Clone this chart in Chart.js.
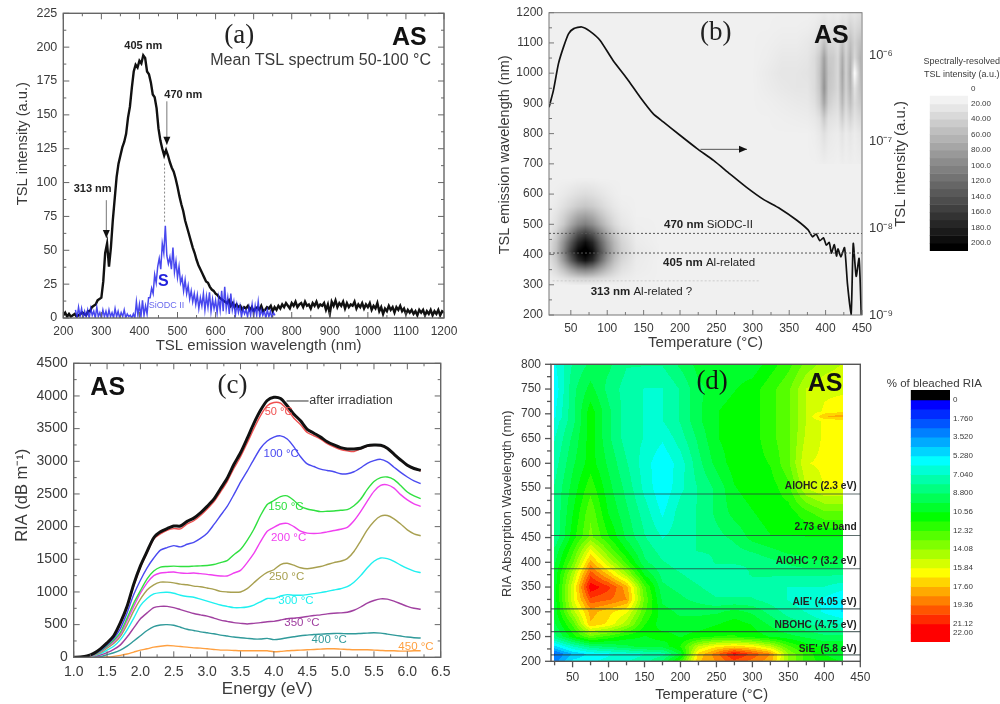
<!DOCTYPE html>
<html><head><meta charset="utf-8">
<style>
html,body{margin:0;padding:0;background:#fff;width:1000px;height:704px;overflow:hidden}
canvas{position:absolute;filter:blur(0.55px)}
</style>
<script src="https://cdn.jsdelivr.net/npm/chart.js@4/dist/chart.umd.min.js"></script>
</head><body>
<canvas id="pa" width="470" height="360" style="left:0;top:0"></canvas>
<canvas id="pb" width="440" height="360" style="left:480px;top:0"></canvas>
<canvas id="pc" width="470" height="354" style="left:0;top:350px"></canvas>
<canvas id="pd" width="420" height="354" style="left:480px;top:350px"></canvas>
<canvas id="cb" width="95" height="201" style="left:905px;top:50px"></canvas>
<canvas id="cd" width="120" height="267" style="left:880px;top:375px"></canvas>
<script>
/* ---------- (a) mean TSL spectrum ---------- */
const aTicksX=[200,300,400,500,600,700,800,900,1000,1100,1200];
const aTicksY=[0,25,50,75,100,125,150,175,200,225];
const aBlackStart=200,aBlackStep=5;
const aBlack=[2,4,1,3,1,2,3,1,2,3,4,3,2,5,5,8,9,10,13,14,15,
27,48,55,38,52,72,88,104,114,120,126,130,136,148,156,170,182,187,185,190,188,194,192,182,180,174,165,163,155,140,131,125,120,124,120,115,111,108,103,97,90,84,79,72,67,62,57,52,48,43,39,36,33,30,27,26,23,21,20,18,17,15,14,13,12,11,13,9,11,8,10,8,9,6,8,7,9,6,8,5,7,8,6,9,5,6,8,7,9,5,8,6,
9,7,10,8,11,9,7,11,9,12,8,10,11,8,12,9,10,7,11,9,12,8,10,9,11,6,10,3,12,9,13,8,11,9,12,7,11,8,10,9,12,7,10,8,11,7,10,8,11,6,9,7,11,5,8,3,7,5,9,6,8,4,8,6,9,5,7,3,6,4,6,3,5,2,6,4,6,2,5,3,6,2,5,3,6,2,5,4];
const aBlueStart=232,aBlueStep=4;
const aBlue=[6,0,8,1,7,0,5,1,6,0,7,2,5,0,8,1,4,0,6,1,5,0,6,1,4,0,7,1,5,0,4,1,6,0,3,1,2,0,3,0,12,2,10,1,13,2,9,3,15,
15,22,18,32,26,38,44,36,55,48,68,46,40,45,36,52,34,42,30,38,26,30,20,28,18,24,14,20,12,18,10,17,7,15,9,18,6,16,8,19,5,14,7,13,4,15,6,20,5,23,7,15,3,18,6,12,2,10,4,9,1,7,3,6,1,8,2,10,1,9,2,12,1,6,2,5,0,6,1,5,0,4,2];

/* ---------- (b) TSL map and glow curve ---------- */
const bTicksX=[50,100,150,200,250,300,350,400,450];
const bTicksY=[200,300,400,500,600,700,800,900,1000,1100,1200];
const bTicksLog=[1e-9,1e-8,1e-7,1e-6];
const bTickLogLabels=['10⁻⁹','10⁻⁸','10⁻⁷','10⁻⁶'];
const bGlowT=[20,26,33,40,47,54,65,76,90,108,127,145,163,177,200,223,246,268,291,314,337,360,376,382,387,392,397,401,405,408,412,415,417,421,426,430,435,438,442,446,449];
const bGlowI=[2.5e-7,3.9e-7,8.0e-7,1.25e-6,1.78e-6,2.03e-6,2.12e-6,1.9e-6,1.49e-6,8.7e-7,5.4e-7,3.3e-7,2.12e-7,1.7e-7,1.19e-7,8.4e-8,6.1e-8,4.3e-8,3.0e-8,2.18e-8,1.7e-8,1.25e-8,9.6e-9,8.0e-9,8.6e-9,7.2e-9,7.8e-9,6.4e-9,6.9e-9,5.2e-9,6.5e-9,4.8e-9,5.8e-9,4.7e-9,6.0e-9,2.3e-9,1e-9,6.7e-9,2.8e-9,4.5e-9,1e-9];
const bBlobT=[20,30,40,50,60,70,80,90,100,110,120,140,170];
const bBlobW=[300,320,350,380,410,440,470,500,530,560,600,650];
const bBlob=[
[12,12,12,14,15,15,15,14,13,13,12,12,12],
[14,17,22,28,32,34,32,28,24,20,16,13,12],
[18,30,48,72,92,100,92,72,52,36,24,15,12],
[22,42,80,125,165,185,165,120,80,50,32,16,12],
[26,50,95,150,195,210,190,140,95,60,38,18,13],
[24,46,85,130,170,190,170,125,85,55,34,16,12],
[20,36,65,100,135,150,132,100,68,44,28,14,12],
[16,26,42,68,90,100,88,66,46,30,20,13,12],
[14,22,34,50,66,72,64,48,34,24,17,12,12],
[13,17,24,32,40,44,40,32,24,18,14,12,12],
[12,14,17,21,25,27,25,21,17,14,12,12,12],
[12,12,12,12,13,13,13,12,12,12,12,12,12]];
const bStripeT=[300,320,340,360,375,385,392,398,404,411,417,423,428,434,440,448];
const bStripeW=[700,800,850,900,950,1000,1050,1100,1150,1200];
const bStripe=[
[12,12,12,12,12,12,13,14,13,13,12,14,13,14,13,14],
[12,12,12,12,12,14,18,25,18,16,15,22,15,20,15,20],
[12,12,13,14,15,18,24,42,24,22,20,38,22,34,22,30],
[12,13,15,17,18,24,38,70,38,30,26,55,30,50,28,42],
[12,15,18,20,20,28,44,85,44,38,30,65,35,60,22,50],
[12,16,20,20,22,28,46,80,46,40,30,70,35,65,0,55],
[12,14,18,18,20,28,42,75,42,40,30,65,35,60,30,60],
[12,13,15,15,18,22,30,50,32,30,26,48,30,50,35,50],
[12,12,13,13,14,16,20,25,20,22,20,28,25,35,28,35],
[12,12,12,12,12,13,14,16,14,16,14,18,18,22,20,25]];
const bBarLevels=[10,20,30,40,50,60,70,80,90,100,110,120,130,140,150,160,170,180,190,200,210];
const bBarTicks=[0,20,40,60,80,100,120,140,160,180,200];
const bBarLabels=['0','20.00','40.00','60.00','80.00','100.0','120.0','140.0','160.0','180.0','200.0'];

/* ---------- (c) RIA spectra ---------- */
const cTicksX=[1,1.5,2,2.5,3,3.5,4,4.5,5,5.5,6,6.5];
const cTicksY=[0,500,1000,1500,2000,2500,3000,3500,4000,4500];
const cEnergy=[1.0,1.1,1.2,1.3,1.4,1.5,1.6,1.7,1.8,1.9,2.0,2.1,2.2,2.3,2.4,2.5,2.6,2.7,2.8,2.9,3.0,3.1,3.2,3.3,3.4,3.5,3.6,3.7,3.8,3.9,4.0,4.1,4.2,4.3,4.4,4.5,4.6,4.7,4.8,4.9,5.0,5.1,5.2,5.3,5.4,5.5,5.6,5.7,5.8,5.9,6.0,6.1,6.2];
const cAfter=[0,5,20,60,130,220,330,530,780,1120,1400,1620,1830,1920,1970,2010,2010,2080,2130,2210,2310,2420,2580,2740,2950,3130,3350,3580,3780,3930,3980,3960,3850,3720,3620,3490,3430,3370,3300,3250,3210,3190,3190,3200,3240,3250,3245,3200,3110,3020,2940,2890,2860];
const c50=[0,5,18,55,125,210,320,510,760,1090,1380,1600,1810,1890,1945,1970,1965,2040,2090,2170,2270,2380,2530,2690,2890,3070,3280,3500,3700,3850,3900,3890,3790,3660,3560,3440,3390,3340,3270,3220,3180,3160,3150,3190,3230,3245,3240,3195,3105,3015,2935,2885,2855];
const c100=[0,4,15,45,105,190,290,440,680,960,1180,1370,1520,1640,1680,1710,1690,1730,1760,1820,1900,2030,2170,2310,2490,2680,2850,3030,3200,3310,3370,3390,3340,3220,3070,2960,2920,2880,2860,2840,2810,2810,2840,2900,2970,3010,3030,2990,2910,2830,2760,2700,2660];
const c150=[0,3,12,40,95,170,260,380,600,830,1020,1200,1320,1380,1390,1395,1390,1390,1395,1400,1405,1420,1450,1480,1570,1650,1790,1960,2170,2340,2400,2460,2470,2400,2310,2270,2250,2230,2235,2240,2250,2260,2320,2420,2570,2690,2750,2760,2720,2630,2530,2470,2430];
const c200=[0,3,10,35,85,160,240,350,560,780,980,1140,1250,1290,1300,1305,1290,1285,1290,1280,1270,1255,1245,1245,1290,1330,1450,1590,1770,1930,1990,2040,2050,2000,1930,1900,1895,1900,1920,1940,1960,1990,2090,2230,2390,2540,2630,2640,2590,2490,2410,2350,2310];
const c250=[0,2,8,28,70,140,210,320,500,710,890,1030,1110,1150,1150,1140,1120,1110,1090,1080,1060,1040,1010,1000,995,1000,1050,1140,1230,1300,1340,1420,1440,1410,1370,1355,1370,1390,1420,1450,1470,1510,1620,1780,1950,2080,2160,2170,2120,2040,1950,1890,1860];
const c300=[0,1,5,20,55,110,170,270,420,600,790,900,970,990,995,980,950,930,920,890,860,830,800,780,760,760,770,800,850,900,900,940,960,950,950,960,975,990,1010,1030,1050,1080,1150,1250,1370,1470,1520,1510,1470,1410,1360,1320,1295];
const c350=[0,0,3,12,35,70,120,190,310,450,590,680,760,780,780,760,730,700,670,650,630,600,570,550,530,520,510,520,530,545,550,570,590,600,610,625,640,650,665,675,680,690,720,770,830,870,895,890,860,820,780,750,735];
const c400=[0,0,1,4,10,40,70,110,170,250,330,410,470,495,500,490,460,430,410,390,375,360,340,325,310,300,290,280,280,290,270,280,300,315,330,340,350,355,360,365,365,360,360,365,370,375,370,355,340,325,310,300,295];
const c450=[0,0,0,1,2,5,15,30,50,80,110,130,155,170,180,175,165,155,145,140,130,120,110,110,105,100,100,100,100,100,85,90,100,105,110,115,120,125,130,130,125,120,115,115,115,110,105,100,100,95,95,100,100];

/* ---------- (d) bleached RIA map ---------- */
const dTicksX=[50,100,150,200,250,300,350,400,450];
const dTicksY=[200,250,300,350,400,450,500,550,600,650,700,750,800];
const dTemps=[25,50,75,100,125,150,175,200,225,250,275,300,325,350,375,400,425];
const dWave=[800,750,705,695,685,650,600,550,500,450,425,400,375,350,325,300,275,250,230,215,200];
const dMap=[
[6,8,9,9,8,8,8,9,10,10,10,10,11,12,13.5,14.5,15],
[5.5,8.5,10,8.5,7.5,7,7,8,9.5,10,10.5,11,12,13,15,15.6,15.6],
[6,8.5,11,9,7.5,7,7,8,9.5,10.5,11,11,12,13,15,16,16.5],
[6,8.5,11,9,7.5,7,7,8,9.5,10.5,11,11,12,13,15,17.6,18],
[6.5,8.5,11,9,7.5,7,7,8,9.5,10.5,11,11,12,13,15,16,16.2],
[7,9,11,9,7.5,7,6.3,7.5,9,10.5,11,11,12,13,15.2,16,16],
[7.5,9.5,11,9.5,8,6.6,5.4,6.6,8.5,10,11,11,11.5,13,15.8,16,16],
[8,10,12,10,8.5,6.8,5.4,6.8,8,9,10.5,11,11,12,15,15.9,15.9],
[8,10.5,13,10.5,9,7.5,6,7.5,8,9,10,10.5,11,11,12,13,13],
[8,11,13.5,11.5,9.5,8,7,7.5,8,8.5,9,10,10.5,10.5,10.5,10.5,10.5],
[9,12,16,13,10.5,8.5,7.5,7.5,8,8,8.5,9,9.5,10,10,10.5,10],
[9.5,13,18,15,12,9,8,7.5,7.5,8,8,8,8.5,9,9.5,9.5,9.5],
[10,14.5,20,17.5,14.5,10.5,8.5,8,7.5,7.5,7.5,8,8,8,8,8,8],
[10,15.5,21.8,20.5,18,12.5,9,8.5,8,7.5,7.5,7.5,7.5,7,7,7,6.5],
[10,15.5,20,19.5,18.5,13,9.5,9,8.5,8,8,8,7.5,7,6.5,6,5.2],
[10,14.5,18,17,16,12.5,10,9.5,9.5,9.5,10,9.5,8.5,7.5,7,6,5.2],
[9.5,12.5,17.5,16.5,14.5,11.5,10,10,10,10.5,11,10.5,9.5,8.5,8,7.5,7],
[8.5,11,13,12,11,10.5,11,10.5,11,11.5,11.5,11,10.5,10,9.5,9,9],
[5,7,8.5,9,9.5,10,10,11.5,15,16.5,17,16.5,15,12.5,11,10.5,10.5],
[2.5,4.5,5.5,6,6.5,7,7.5,10,17,19,21.5,20,18.5,14,12,10.5,10],
[3,5.5,6,6.5,7,7.5,9,12,17.5,18.5,20,19,18,14,12,11,10.5]];
const dBandLines=[538,454,387,306,260,213];
const dBarLevels=[-0.94,0,0.88,1.76,2.64,3.52,4.40,5.28,6.16,7.04,7.92,8.80,9.68,10.56,11.44,12.32,13.20,14.08,14.96,15.84,16.72,17.60,18.48,19.36,20.24,21.12,22.00,22.83];
const dBarTicks=[0,1.76,3.52,5.28,7.04,8.8,10.56,12.32,14.08,15.84,17.6,19.36,21.12,22];
const dBarLabels=['0','1.760','3.520','5.280','7.040','8.800','10.56','12.32','14.08','15.84','17.60','19.36','21.12','22.00'];

/* ---------- helpers ---------- */
const SANS='"Liberation Sans",Arial,sans-serif', SERIF='"Liberation Serif",serif';
const INK='#3a3a3a';
const zipXY=(xs,ys)=>ys.map((y,i)=>({x:xs[i],y}));
const zipStep=(s,st,ys)=>ys.map((y,i)=>({x:s+st*i,y}));
const grayOf=v=>{const g=Math.max(0,Math.round(255-1.275*v));return `rgb(${g},${g},${g})`;};
function jet(v){
  const n=[[0,[0,0,255]],[5.28,[0,255,255]],[10.56,[0,255,0]],[15.84,[255,255,0]],[21.12,[255,0,0]]];
  if(v<=0)return 'rgb(0,0,255)';
  for(let i=0;i<4;i++){
    if(v<n[i+1][0]){const t=(v-n[i][0])/(n[i+1][0]-n[i][0]);
      const c=n[i][1].map((a,k)=>Math.round(a+(n[i+1][1][k]-a)*t));return `rgb(${c})`;}
  }
  return 'rgb(255,0,0)';
}
const jetBand=v=>jet(Math.floor(v/0.88+1e-6)*0.88);

const heatPlugin={id:'heat',beforeDatasetsDraw(ch){
  const c=ch.ctx,a=ch.chartArea,bg=ch.options.plugins.heat&&ch.options.plugins.heat.background;
  c.save();c.beginPath();c.rect(a.left,a.top,a.width,a.height);c.clip();
  if(bg){c.fillStyle=bg;c.fillRect(a.left,a.top,a.width,a.height);}
  ch.data.datasets.forEach(d=>{ if(!d.heat)return;
    const {xs,ys,rows,color}=d.heat, sx=ch.scales.x, sy=ch.scales.y;
    const px=xs.map(v=>sx.getPixelForValue(v)), py=ys.map(v=>sy.getPixelForValue(v));
    const flip=py[0]>py[py.length-1];
    const order=ys.map((_,i)=>flip?ys.length-1-i:i);
    const P=order.map(i=>py[i]);
    for(let Y=Math.floor(P[0]);Y<Math.ceil(P[P.length-1]);Y++){
      let j=0;while(j<P.length-2&&P[j+1]<=Y+.5)j++;
      const ty=Math.min(1,Math.max(0,(Y+.5-P[j])/(P[j+1]-P[j])));
      const r0=rows[order[j]],r1=rows[order[j+1]];
      for(let X=Math.floor(px[0]);X<Math.ceil(px[px.length-1]);X++){
        let i=0;while(i<px.length-2&&px[i+1]<=X+.5)i++;
        const tx=Math.min(1,Math.max(0,(X+.5-px[i])/(px[i+1]-px[i])));
        const v=(r0[i]*(1-tx)+r0[i+1]*tx)*(1-ty)+(r1[i]*(1-tx)+r1[i+1]*tx)*ty;
        c.fillStyle=color(v);c.fillRect(X,Y,1,1);
      }
    }
  });
  c.restore();
}};
const framePlugin={id:'frame',afterDatasetsDraw(ch){
  const o=ch.options.plugins.frame; if(!o||!o.xTicks)return;
  const c=ch.ctx,a=ch.chartArea;
  c.save();c.strokeStyle=o.color;c.lineWidth=o.width;
  c.strokeRect(a.left,a.top,a.width,a.height);
  c.lineWidth=o.tickWidth||1;
  const mids=t=>t.slice(0,-1).map((v,i)=>(v+t[i+1])/2);
  const doX=(t,len)=>t.forEach(v=>{const p=ch.scales.x.getPixelForValue(v);
    c.beginPath();
    (o.bottom||[]).forEach(s=>{c.moveTo(p,a.bottom);c.lineTo(p,a.bottom+s*len);});
    (o.top||[]).forEach(s=>{c.moveTo(p,a.top);c.lineTo(p,a.top-s*len);});
    c.stroke();});
  const doY=(t,len)=>t.forEach(v=>{const p=ch.scales.y.getPixelForValue(v);
    c.beginPath();
    (o.left||[]).forEach(s=>{c.moveTo(a.left,p);c.lineTo(a.left+s*len,p);});
    (o.right||[]).forEach(s=>{c.moveTo(a.right,p);c.lineTo(a.right-s*len,p);});
    c.stroke();});
  doX(o.xTicks,o.major);doX(mids(o.xTicks),o.minor);
  doY(o.yTicks,o.major);doY(mids(o.yTicks),o.minor);
  if(o.extraX)doX(o.extraX,o.minor);
  c.restore();
}};
const notesPlugin={id:'notes',afterDatasetsDraw(ch){
  const o=ch.options.plugins.notes; if(!o)return;
  const c=ch.ctx;c.save();
  (o.guides||[]).forEach(g=>{
    const sy=ch.scales.y,sx=ch.scales.x;
    const x1=sx.getPixelForValue(g.x1),x2=sx.getPixelForValue(g.x2),y1=sy.getPixelForValue(g.y1),y2=sy.getPixelForValue(g.y2);
    c.strokeStyle=g.color;c.lineWidth=g.width||1;c.setLineDash(g.dash||[]);
    c.beginPath();c.moveTo(x1,y1);c.lineTo(x2,y2);c.stroke();c.setLineDash([]);
    if(g.head){const an=Math.atan2(y2-y1,x2-x1),L=8,W=3.5;
      c.fillStyle=g.head;c.beginPath();c.moveTo(x2,y2);
      c.lineTo(x2-L*Math.cos(an)-W*Math.sin(an),y2-L*Math.sin(an)+W*Math.cos(an));
      c.lineTo(x2-L*Math.cos(an)+W*Math.sin(an),y2-L*Math.sin(an)-W*Math.cos(an));
      c.closePath();c.fill();}
  });
  (o.texts||[]).forEach(t=>{
    const X=ch.scales.x.getPixelForValue(t.x)+(t.dx||0),Y=ch.scales.y.getPixelForValue(t.y);
    c.textBaseline='middle';
    if(t.runs){
      c.textAlign='left';
      let w=0;t.runs.forEach(r=>{c.font=r[1];w+=c.measureText(r[0]).width;});
      let p=X-w/2;c.fillStyle=t.color;
      t.runs.forEach(r=>{c.font=r[1];c.fillText(r[0],p,Y);p+=c.measureText(r[0]).width;});
    }else{
      c.font=t.font;c.fillStyle=t.color;c.textAlign=t.align||'center';c.fillText(t.t,X,Y);
    }
  });
  c.restore();
}};
Chart.register(heatPlugin,framePlugin,notesPlugin);

/* fixes the plot box and nudges the axis title to where the reference has it */
function fit(size,dx,dy,flip){
  return s=>{
    if(s.isHorizontal())s.height=size;else s.width=size;
    s.paddingTop=s.paddingBottom=s.paddingLeft=s.paddingRight=0;
    if(!s._wrapped){s._wrapped=true;const orig=s.drawTitle;
      s.drawTitle=function(){const c=this.ctx;c.save();c.translate(dx||0,dy||0);
        if(flip){const cx=this.right-9,cy=(this.top+this.bottom)/2;c.translate(cx,cy);c.rotate(Math.PI);c.translate(-cx,-cy);}
        orig.call(this);c.restore();};}
  };
}
function setTicks(list){return s=>{s.ticks=list.map(value=>({value}));};}
const noGrid={display:false,drawTicks:false};
function xAxis(min,max,list,title,size,tickFont,titleFont,dx,dy,fmt,pad){
  return {type:'linear',min,max,afterBuildTicks:setTicks(list),afterFit:fit(size,dx,dy),
    grid:noGrid,border:{display:false},
    ticks:{autoSkip:false,maxRotation:0,padding:pad||6,color:INK,font:{family:SANS,size:tickFont},callback:fmt||(v=>String(v))},
    title:{display:true,text:title,color:INK,font:{family:SANS,size:titleFont},padding:0}};
}
function yAxis(min,max,list,title,size,tickFont,titleFont,dx,dy,pad){
  return {type:'linear',min,max,afterBuildTicks:setTicks(list),afterFit:fit(size,dx,dy),
    grid:noGrid,border:{display:false},
    ticks:{autoSkip:false,padding:pad||6,color:INK,font:{family:SANS,size:tickFont},callback:v=>String(v)},
    title:{display:true,text:title,color:INK,font:{family:SANS,size:titleFont},padding:0}};
}
const base=(padding)=>({responsive:false,animation:false,devicePixelRatio:1,layout:{padding},parsing:true,
  elements:{point:{radius:0}}});

/* ---------- panel a ---------- */
new Chart(document.getElementById('pa'),{type:'scatter',
 data:{datasets:[
  {data:zipStep(aBlueStart,aBlueStep,aBlue),showLine:true,borderColor:'rgba(40,40,235,.85)',borderWidth:1.5,pointRadius:0},
  {data:zipStep(aBlackStart,aBlackStep,aBlack),showLine:true,borderColor:'#111',borderWidth:2.4,pointRadius:0}]},
 options:{...base({top:13.3,right:26,left:0,bottom:0}),
  scales:{x:xAxis(200,1200,aTicksX,'TSL emission wavelength (nm)',42,12,15,5,-5),
          y:yAxis(0,225,aTicksY,'TSL intensity (a.u.)',63.3,12.5,14.7,14,-22)},
  plugins:{legend:{display:false},tooltip:{enabled:false},
   frame:{color:'#666',width:1.4,major:6,minor:3,xTicks:aTicksX,yTicks:aTicksY,bottom:[-1],top:[-1],left:[1],right:[1]},
   notes:{guides:[
     {x1:313,y1:87,x2:313,y2:59,color:'#777',head:'#111'},
     {x1:472,y1:160,x2:472,y2:128,color:'#777',head:'#111'},
     {x1:466,y1:114,x2:466,y2:71,color:'#888',dash:[2,2]}],
    texts:[
     {t:'(a)',x:662,y:208,font:'27px '+SERIF,color:'#222'},
     {t:'AS',x:1109,y:207,font:'bold 25px '+SANS,color:'#111'},
     {t:'Mean TSL spectrum 50-100 °C',x:876,y:190,font:'16px '+SANS,color:INK},
     {t:'405 nm',x:410,y:201,font:'bold 11px '+SANS,color:'#222'},
     {t:'470 nm',x:515,y:165,font:'bold 11px '+SANS,color:'#222'},
     {t:'313 nm',x:277,y:95,font:'bold 11px '+SANS,color:'#222'},
     {t:'S',x:463,y:27,font:'bold 16px '+SANS,color:'#2222dd'},
     {t:'SiODC II',x:471,y:9,font:'9px '+SANS,color:'#6a6aee'}]}}}});

/* ---------- panel b ---------- */
const flat=(xs,ys,rows)=>ys.flatMap((y,j)=>xs.map((x,i)=>({x,y,v:rows[j][i]})));
new Chart(document.getElementById('pb'),{type:'scatter',
 data:{datasets:[
  {data:zipXY(bGlowT,bGlowI),yAxisID:'y2',showLine:true,tension:.2,borderColor:'#111',borderWidth:1.7,pointRadius:0},
  {data:flat(bBlobT,bBlobW,bBlob),pointRadius:0,showLine:false,heat:{xs:bBlobT,ys:bBlobW,rows:bBlob,color:grayOf}},
  {data:flat(bStripeT,bStripeW,bStripe),pointRadius:0,showLine:false,heat:{xs:bStripeT,ys:bStripeW,rows:bStripe,color:grayOf}}]},
 options:{...base({top:12.7,right:0,left:0,bottom:0}),
  scales:{x:xAxis(20,450,bTicksX,'Temperature (°C)',45,12,15,0,-8),
          y:yAxis(200,1200,bTicksY,'TSL emission wavelength (nm)',69,12,14.5,16,-9),
          y2:{type:'logarithmic',position:'right',min:1e-9,max:3.1e-6,afterBuildTicks:setTicks(bTicksLog),afterFit:fit(58,-10,0,true),
            grid:noGrid,border:{display:false},
            ticks:{autoSkip:false,padding:7,color:INK,font:{family:SANS,size:13},callback:v=>bTickLogLabels[bTicksLog.indexOf(v)]||''},
            title:{display:true,text:'TSL intensity (a.u.)',color:INK,font:{family:SANS,size:15},padding:0}}},
  plugins:{legend:{display:false},tooltip:{enabled:false},heat:{background:grayOf(12)},
   frame:{color:'#777',width:1,major:5,minor:3,xTicks:bTicksX,yTicks:bTicksY,bottom:[-1],left:[1]},
   notes:{guides:[
     {x1:20,y1:470,x2:450,y2:470,color:'#555',dash:[2,2]},
     {x1:20,y1:405,x2:450,y2:405,color:'#555',dash:[2,2]},
     {x1:25,y1:313,x2:310,y2:313,color:'#ccc',dash:[2,2]},
     {x1:228,y1:748,x2:292,y2:748,color:'#555',head:'#111'}],
    texts:[
     {t:'(b)',x:249,y:1132,font:'27px '+SERIF,color:'#222'},
     {t:'AS',x:408,y:1124,font:'bold 25px '+SANS,color:'#111'},
     {runs:[['470 nm','bold 11.5px '+SANS],[' SiODC-II','11.5px '+SANS]],x:239,y:498,color:'#222'},
     {runs:[['405 nm','bold 11.5px '+SANS],[' Al-related','11.5px '+SANS]],x:240,y:374,color:'#222'},
     {runs:[['313 nm','bold 11.5px '+SANS],[' Al-related ?','11.5px '+SANS]],x:147,y:275,color:'#222'}]}}}});

/* ---------- panel c ---------- */
const cSeries=[
 {data:cAfter,color:'#111',w:3},{data:c50,color:'#f05050',w:1.4},{data:c100,color:'#4a4af0',w:1.4},
 {data:c150,color:'#30e040',w:1.4},{data:c200,color:'#f040f0',w:1.4},{data:c250,color:'#a8a050',w:1.4},
 {data:c300,color:'#20f0f0',w:1.4},{data:c350,color:'#a040a0',w:1.4},{data:c400,color:'#309a9a',w:1.4},{data:c450,color:'#ffa040',w:1.4}];
new Chart(document.getElementById('pc'),{type:'scatter',
 data:{datasets:cSeries.map(s=>({data:zipXY(cEnergy,s.data),showLine:true,tension:.25,borderColor:s.color,borderWidth:s.w,pointRadius:0}))},
 options:{...base({top:13.3,right:29.3,left:0,bottom:0}),
  scales:{x:xAxis(1,6.5,cTicksX,'Energy (eV)',46.7,14,17,10,-4,v=>v.toFixed(1)),
          y:yAxis(0,4500,cTicksY,'RIA (dB m⁻¹)',73.7,14,16.5,13,-15)},
  plugins:{legend:{display:false},tooltip:{enabled:false},
   frame:{color:'#666',width:1.4,major:6,minor:3,xTicks:cTicksX,yTicks:cTicksY,bottom:[-1],top:[-1],left:[1],right:[1]},
   notes:{guides:[{x1:4.19,y1:3923,x2:4.52,y2:3923,color:'#333'}],
    texts:[
     {t:'(c)',x:3.38,y:4153,font:'27px '+SERIF,color:'#222'},
     {t:'AS',x:1.51,y:4127,font:'bold 25px '+SANS,color:'#111'},
     {t:'after irradiation',x:4.53,y:3923,align:'left',font:'12.5px '+SANS,color:'#333'},
     {t:'50 °C',x:4.07,y:3750,font:'11px '+SANS,color:'#f05050'},
     {t:'100 °C',x:4.11,y:3122,font:'11.5px '+SANS,color:'#4a4af0'},
     {t:'150 °C',x:4.18,y:2296,font:'11.5px '+SANS,color:'#30e040'},
     {t:'200 °C',x:4.22,y:1821,font:'11.5px '+SANS,color:'#f040f0'},
     {t:'250 °C',x:4.19,y:1235,font:'11.5px '+SANS,color:'#a8a050'},
     {t:'300 °C',x:4.33,y:862,font:'11.5px '+SANS,color:'#20f0f0'},
     {t:'350 °C',x:4.42,y:520,font:'11.5px '+SANS,color:'#a040a0'},
     {t:'400 °C',x:4.83,y:265,font:'11.5px '+SANS,color:'#309a9a'},
     {t:'450 °C',x:6.13,y:163,font:'11.5px '+SANS,color:'#ffa040'}]}}}});

/* ---------- panel d ---------- */
const bandFont='bold 10.2px '+SANS;
new Chart(document.getElementById('pd'),{type:'scatter',
 data:{datasets:[{data:flat(dTemps,dWave,dMap),pointRadius:0,showLine:false,heat:{xs:dTemps,ys:dWave,rows:dMap,color:jetBand}}]},
 options:{...base({top:14.3,right:39.7,left:0,bottom:0}),
  scales:{x:xAxis(20,450,dTicksX,'Temperature (°C)',42.7,12,14.7,6,0,null,9),
          y:yAxis(200,800,dTicksY,'RIA Absorption Wavelength (nm)',71,12,12.8,20,-9,10)},
  plugins:{legend:{display:false},tooltip:{enabled:false},
   frame:{color:'#555',width:1.4,tickWidth:1.3,major:6,minor:4,xTicks:dTicksX,yTicks:dTicksY,bottom:[1],left:[-1],extraX:[25]},
   notes:{guides:dBandLines.map(v=>({x1:20,y1:v,x2:450,y2:v,color:'rgba(40,60,60,.75)',width:1.1})),
    texts:[
     {t:'(d)',x:244,y:765,font:'27px '+SERIF,color:'#111'},
     {t:'AS',x:401,y:760,font:'bold 25px '+SANS,color:'#111'},
     {t:'AlOHC (2.3 eV)',x:445,y:554,align:'right',font:bandFont,color:'#222'},
     {t:'2.73 eV band',x:445,y:471,align:'right',font:bandFont,color:'#222'},
     {t:'AlOHC ? (3.2 eV)',x:445,y:403,align:'right',font:bandFont,color:'#222'},
     {t:"AlE' (4.05 eV)",x:445,y:319,align:'right',font:bandFont,color:'#222'},
     {t:'NBOHC (4.75 eV)',x:445,y:273,align:'right',font:bandFont,color:'#222'},
     {t:"SiE' (5.8 eV)",x:445,y:225,align:'right',font:bandFont,color:'#222'}]}}}});

/* ---------- colour keys ---------- */
function key(id,levels,colorOf,min,max,ticks,labels,pad,width,tickFont,texts){
  new Chart(document.getElementById(id),{type:'bar',
   data:{labels:[''],datasets:levels.slice(0,-1).map((lo,i)=>({data:[[lo,levels[i+1]]],backgroundColor:colorOf(lo,i),grouped:false,
      barPercentage:1,categoryPercentage:1,borderWidth:0}))},
   options:{responsive:false,animation:false,devicePixelRatio:1,layout:{padding:pad},
    scales:{x:{display:false},
     y:{type:'linear',position:'right',reverse:true,min,max,afterBuildTicks:setTicks(ticks),afterFit:s=>{s.width=width;s.paddingTop=s.paddingBottom=0;},
      grid:noGrid,border:{display:false},
      ticks:{autoSkip:false,padding:3,color:INK,font:{family:SANS,size:tickFont},callback:v=>labels[ticks.indexOf(v)]||''}}},
    plugins:{legend:{display:false},tooltip:{enabled:false},notes:{texts}}}});
}
key('cb',bBarLevels,lo=>grayOf(lo+(lo>=200?10:0)),0,210,bBarTicks,bBarLabels,{left:24.7,top:38.3,bottom:0,right:0},32,8,[
  {t:'Spectrally-resolved',x:0,dx:13,y:-35,font:'9px '+SANS,color:INK},
  {t:'TSL intensity (a.u.)',x:0,dx:13,y:-18,font:'9px '+SANS,color:INK}]);
key('cd',dBarLevels,lo=>lo<0?'#000':jet(lo),-0.94,22.83,dBarTicks,dBarLabels,{left:30.7,top:15,bottom:0,right:0},50,8,[
  {t:'% of bleached RIA',x:0,dx:4,y:-1.55,font:'11.5px '+SANS,color:INK}]);
</script>
</body></html>
